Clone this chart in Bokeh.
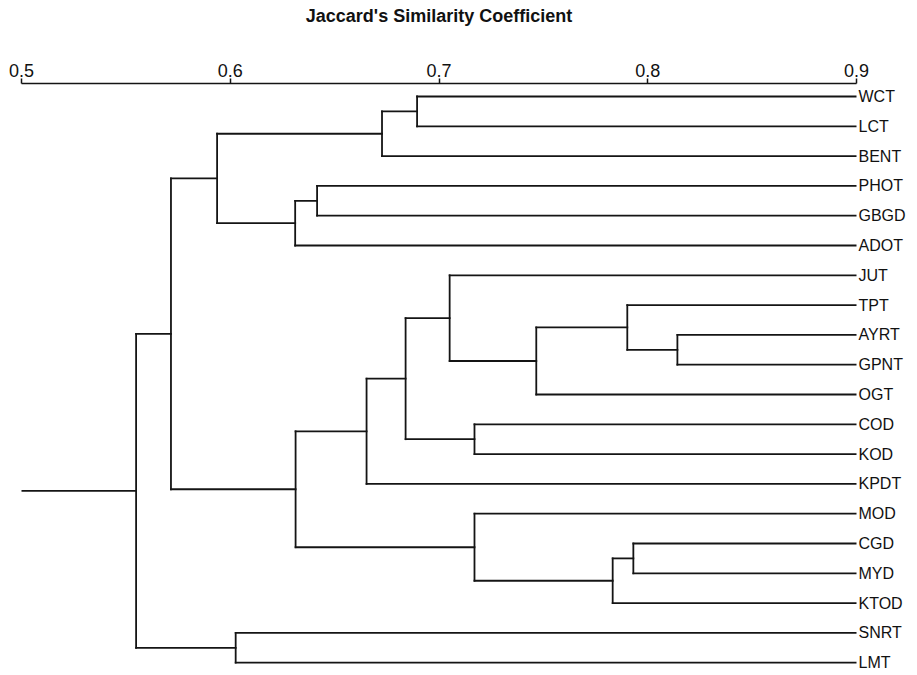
from bokeh.plotting import figure
from bokeh.models import Range1d, FixedTicker, ColumnDataSource, LinearAxis, CustomJSTickFormatter
from bokeh.embed import file_html
from bokeh.resources import INLINE

# ---- data ----
leaves = ["WCT", "LCT", "BENT", "PHOT", "GBGD", "ADOT", "JUT", "TPT", "AYRT", "GPNT",
          "OGT", "COD", "KOD", "KPDT", "MOD", "CGD", "MYD", "KTOD", "SNRT", "LMT"]
# merges: (left child, right child, similarity) ; internal nodes named n1, n2, ...
merge_left = ["WCT", "n1", "PHOT", "n3", "n2", "AYRT", "TPT", "n7", "JUT", "COD",
              "n9", "n11", "CGD", "n13", "MOD", "n12", "n5", "SNRT", "n17"]
merge_right = ["LCT", "BENT", "GBGD", "ADOT", "n4", "GPNT", "n6", "OGT", "n8", "KOD",
               "n10", "KPDT", "MYD", "KTOD", "n14", "n15", "n16", "LMT", "n18"]
merge_sim = [0.6895, 0.6727, 0.6416, 0.6311, 0.5937, 0.8142, 0.7902, 0.7466, 0.7051, 0.7170,
             0.6840, 0.6653, 0.7931, 0.7832, 0.7170, 0.6313, 0.5716, 0.6026, 0.5549]
axis_ticks = [0.5, 0.6, 0.7, 0.8, 0.9]
x_min, x_max = 0.5, 0.9
title_text = "Jaccard's Similarity Coefficient"

# ---- geometry from the data ----
ypos = {name: i for i, name in enumerate(leaves)}
xpos = {name: x_max for name in leaves}
x0, y0, x1, y1 = [], [], [], []
for k, (a, b, s) in enumerate(zip(merge_left, merge_right, merge_sim), start=1):
    node = "n%d" % k
    x0.append(s); x1.append(s); y0.append(ypos[a]); y1.append(ypos[b])
    for c in (a, b):
        x0.append(s); x1.append(xpos[c]); y0.append(ypos[c]); y1.append(ypos[c])
    ypos[node] = (ypos[a] + ypos[b]) / 2.0
    xpos[node] = s
root = "n%d" % len(merge_sim)
x0.append(x_min); x1.append(xpos[root]); y0.append(ypos[root]); y1.append(ypos[root])

seg = ColumnDataSource(dict(x0=x0, y0=y0, x1=x1, y1=y1))

W, H = 916, 674
top_border = 83
spacing = 29.8   # px per leaf
top_pad = 13.0   # px from frame top to first leaf
frame_h = H - top_border
y_top = -top_pad / spacing
y_bot = (frame_h - top_pad) / spacing

p = figure(width=W, height=H,
           x_range=Range1d(x_min, x_max), y_range=Range1d(y_bot, y_top),
           x_axis_location="above", y_axis_location=None,
           output_backend="svg", toolbar_location=None, title=None,
           min_border_left=21, min_border_right=60, min_border_top=top_border, min_border_bottom=0)
p.outline_line_color = None
p.grid.visible = False
p.background_fill_color = "white"
p.border_fill_color = "white"

p.segment(x0="x0", y0="y0", x1="x1", y1="y1", source=seg,
          line_color="#141414", line_width=1.8, line_cap="square")

# leaf names as labels of an invisible right-hand axis
yax = LinearAxis(ticker=FixedTicker(ticks=list(range(len(leaves)))),
                 formatter=CustomJSTickFormatter(args=dict(names=leaves),
                                                 code="return names[Math.round(tick)] || '';"))
yax.axis_line_color = None
yax.major_tick_line_color = None
yax.minor_tick_line_color = None
yax.major_tick_in = 0
yax.major_tick_out = 0
yax.major_label_standoff = 2
yax.major_label_text_font = "Liberation Sans"
yax.major_label_text_font_size = "16px"
yax.major_label_text_color = "#111111"
p.add_layout(yax, "right")

ax = p.xaxis[0]
ax.ticker = FixedTicker(ticks=axis_ticks)
ax.bounds = (x_min, x_max)
ax.minor_tick_line_color = None
ax.major_tick_in = 0
ax.major_tick_out = 5
ax.major_label_standoff = 2
ax.major_label_text_font = "Liberation Sans"
ax.major_label_text_font_size = "18px"
ax.major_label_text_color = "#111111"
ax.axis_line_width = 1.5
ax.axis_line_color = "#141414"
ax.major_tick_line_color = "#141414"
ax.major_tick_line_width = 1.5
ax.axis_label = title_text
ax.axis_label_text_font = "Liberation Sans"
ax.axis_label_text_font_style = "bold"
ax.axis_label_text_font_size = "18px"
ax.axis_label_text_color = "#111111"
ax.axis_label_standoff = 35

open("out.html", "w").write(file_html(p, INLINE))
